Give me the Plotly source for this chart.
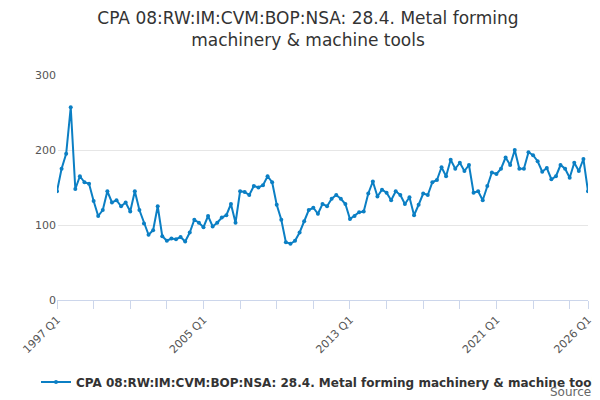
import plotly.graph_objects as go

values = [145, 175, 195, 257, 148, 165, 157, 155, 132, 112, 120, 145,
          130, 133, 125, 130, 118, 145, 120, 102, 87, 93, 125, 85,
          79, 82, 81, 84, 78, 90, 107, 103, 97, 112, 98, 103,
          110, 113, 128, 103, 145, 144, 140, 152, 150, 153, 165, 157,
          127, 107, 77, 75, 79, 90, 105, 120, 123, 115, 128, 125,
          135, 140, 135, 128, 108, 112, 117, 118, 142, 158, 138, 147,
          143, 133, 145, 140, 128, 137, 113, 127, 142, 140, 157, 160,
          177, 165, 187, 175, 183, 172, 180, 143, 145, 133, 152, 170,
          168, 175, 190, 180, 200, 175, 175, 197, 193, 185, 171, 176,
          161, 165, 180, 175, 163, 183, 172, 188, 145]
quarters = [f"{1997 + i // 4} Q{i % 4 + 1}" for i in range(len(values))]
label_quarters = ["1997 Q1", "2005 Q1", "2013 Q1", "2021 Q1", "2026 Q1"]

idx = list(range(len(values)))
tickvals = list(range(0, len(values), 8)) + [len(values) - 1]
ticktext = [quarters[i] if quarters[i] in label_quarters else "" for i in tickvals]

fig = go.Figure(go.Scatter(
    x=idx, y=values, mode="lines+markers",
    name="CPA 08:RW:IM:CVM:BOP:NSA: 28.4. Metal forming machinery & machine tools",
    line=dict(color="#0b7fc4", width=2), marker=dict(size=4, color="#0b7fc4"),
    text=quarters, hovertemplate="%{text}: %{y}<extra></extra>"))

fig.update_layout(
    width=600, height=400, plot_bgcolor="white", paper_bgcolor="white",
    font=dict(family="DejaVu Sans", color="#555"),
    title=dict(text="CPA 08:RW:IM:CVM:BOP:NSA: 28.4. Metal forming<br>machinery & machine tools",
               x=0.5, y=0.96, font=dict(size=17, color="#333")),
    margin=dict(l=47, r=20, t=67, b=103),
    showlegend=True,
    legend=dict(orientation="h", x=0.5, xanchor="center", y=-0.3, yanchor="top",
                font=dict(size=12, color="#333", weight="bold")),
    xaxis=dict(range=[0, len(values) - 1], tickvals=tickvals, ticktext=ticktext,
               tickangle=-45, ticks="outside", ticklen=8, tickcolor="#ccd6eb",
               showline=True, linecolor="#ccd6eb", showgrid=False, tickfont=dict(size=11)),
    yaxis=dict(range=[0, 300], tickvals=[0, 100, 200, 300], gridcolor="#e6e6e6",
               zeroline=False, tickfont=dict(size=11)),
)
fig.add_annotation(text="Source:", xref="paper", yref="paper", x=1.017, y=-0.37,
                   xanchor="right", yanchor="top", showarrow=False,
                   font=dict(size=12, color="#666"))

fig.write_html("out.html")
